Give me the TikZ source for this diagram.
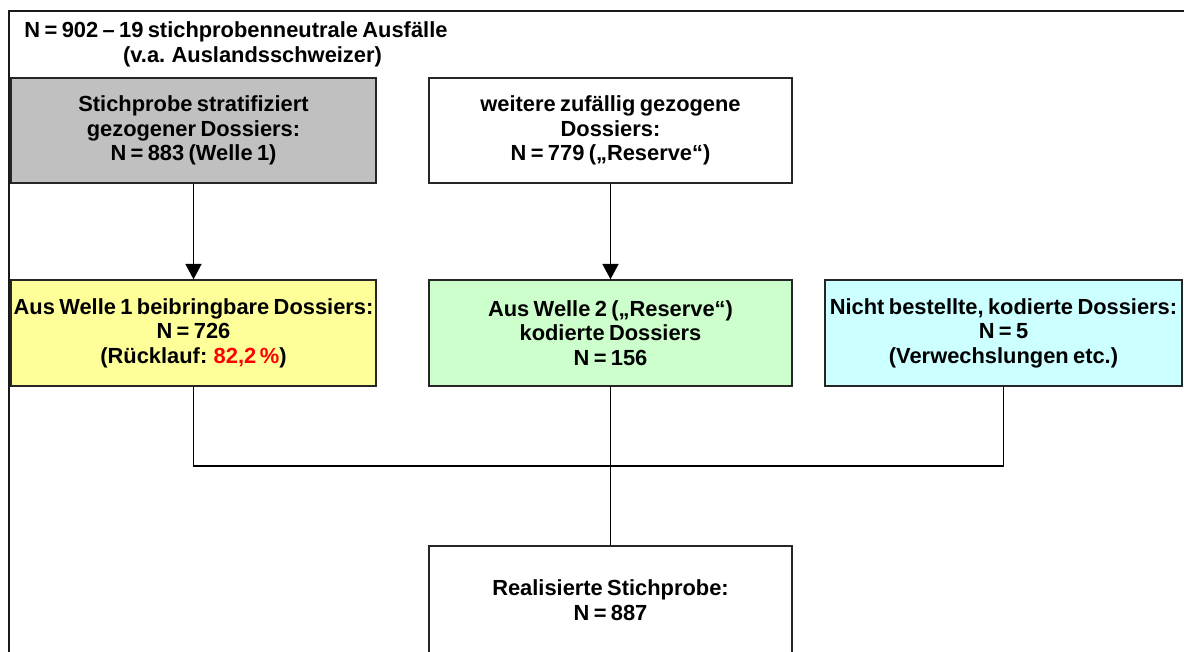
\documentclass[tikz,border=0pt]{standalone}
\usepackage{fontspec}
\setmainfont{Liberation Sans}
\usetikzlibrary{arrows.meta}
\definecolor{boxgray}{HTML}{C0C0C0}
\definecolor{boxyellow}{HTML}{FFFF99}
\definecolor{boxgreen}{HTML}{CCFFCC}
\definecolor{boxcyan}{HTML}{CCFFFF}
\definecolor{redtxt}{HTML}{FF0000}
\newcommand\mytightspace{\spaceskip=0.2em plus 0.05em\relax}
\begin{document}
\begin{tikzpicture}[x=0.75pt,y=-0.75pt,
  txt/.style={font=\bfseries\fontsize{16.4}{18.4}\selectfont\mytightspace, inner sep=0pt, align=center},
  flowbox/.style={txt, draw=black!85, line width=1.1pt, minimum height=79pt},
  leftcol/.style={flowbox, minimum width=273.75pt},
  midcol/.style={flowbox, minimum width=272.25pt},
  conn/.style={line width=1.2pt, draw=black},
  arr/.style={conn, -{Triangle[width=12pt,length=11.5pt]}}
]
\useasboundingbox (0,0) rectangle (1184,651);
\clip (0,0) rectangle (1184,651);
% outer frame
\draw[line width=1.5pt, black!90] (9,660) -- (9,11) -- (1190,11);
% title
\node[txt] (t1) at (236,32) {N = 902 – 19 stichprobenneutrale Ausfälle};
\node[txt] (t2) at (252.5,57) {(v.a. Auslandsschweizer)};
% row 1
\node[leftcol, fill=boxgray] (b1) at (193.5,130.5)
  {Stichprobe stratifiziert\\gezogener Dossiers:\\N = 883 (Welle 1)};
\node[midcol, fill=white] (b2) at (610.5,130.5)
  {weitere zufällig gezogene\\Dossiers:\\N = 779 („Reserve“)};
% row 2
\node[leftcol, fill=boxyellow, minimum height=79.5pt] (b3) at (193.5,333)
  {Aus Welle 1 beibringbare Dossiers:\\N = 726\\(Rücklauf: {\color{redtxt}82,2\,\%})};
\node[midcol, fill=boxgreen, minimum height=79.5pt] (b4) at (610.5,333)
  {Aus Welle 2 („Reserve“)\\kodierte Dossiers\\N = 156};
\node[flowbox, fill=boxcyan, minimum width=267.75pt, minimum height=79.5pt] (b5) at (1003.5,333)
  {Nicht bestellte, kodierte Dossiers:\\N = 5\\(Verwechslungen etc.)};
% row 3
\node[midcol, fill=white, minimum height=81pt] (b6) at (610.5,600)
  {Realisierte Stichprobe:\\N = 887};
% connectors
\draw[arr] (b1.south) -- (b3.north);
\draw[arr] (b2.south) -- (b4.north);
\coordinate (j) at (610.5,466);
\draw[conn] (b3.south) |- (j) -| (b5.south);
\draw[conn] (b4.south) -- (b6.north);
\end{tikzpicture}
\end{document}
